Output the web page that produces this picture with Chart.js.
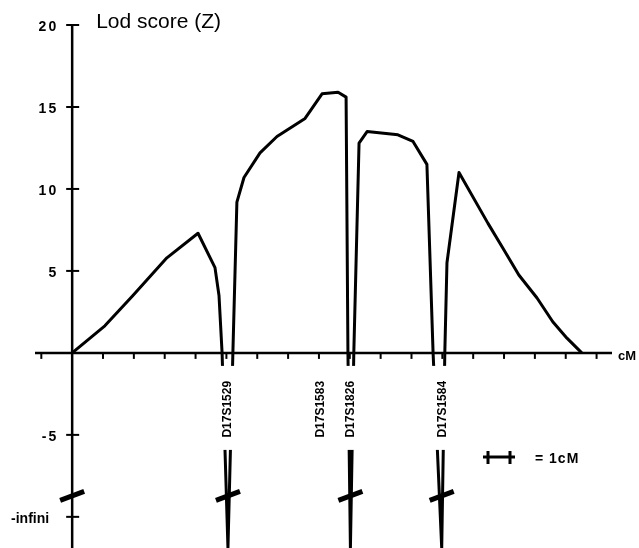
<!DOCTYPE html>
<html>
<head>
<meta charset="utf-8">
<script src="https://cdn.jsdelivr.net/npm/chart.js@4"></script>
<style>
  body { margin: 0; background: #fff; }
  canvas { display: block; }
</style>
</head>
<body>
<canvas id="lodChart" width="639" height="548"></canvas>
<script>
// map position (cM) and lod score Z; -Infinity = "-infini" (drops at the markers)
const positionsCM = [0.00, 1.06, 1.97, 3.07, 4.08, 4.63, 4.76, 4.86, 5.05, 5.21,
  5.34, 5.57, 6.09, 6.64, 7.55, 8.10, 8.62, 8.88, 8.94, 9.02,
  9.13, 9.30, 9.56, 10.56, 11.05, 11.50, 11.70, 11.98, 12.08, 12.15,
  12.54, 13.48, 13.96, 14.48, 15.07, 15.58, 16.04, 16.52];
const lodScores = [0, 1.65, 3.5, 5.8, 7.3, 5.2, 3.5, 0, -Infinity, 0,
  9.2, 10.7, 12.2, 13.2, 14.3, 15.8, 15.9, 15.6, 0, -Infinity,
  0, 12.8, 13.5, 13.3, 12.9, 11.5, 0, -Infinity, 0, 5.5,
  11.0, 7.9, 6.4, 4.75, 3.35, 1.9, 0.9, 0];

const markerNames = ['D17S1529', 'D17S1583', 'D17S1826', 'D17S1584'];
const markerCM = [5.05, 8.07, 9.02, 12.0];

const xTicks = [-1, 0, 1, 2, 3, 4, 5, 6, 7, 8, 9, 10, 11, 12, 13, 14, 15, 16, 17];
const yTicks = [20, 15, 10, 5, -5, -10];
const yTickLabels = ['20', '15', '10', '5', '-5', '-infini'];
const breakValue = -8.72;

const X_MIN = -1.14, X_MAX = 17.5;
const Y_MIN = -11.9, Y_MAX = 20;
const INK = '#000';

const line = (ctx, x1, y1, x2, y2) => {
  ctx.beginPath();
  ctx.moveTo(x1, y1);
  ctx.lineTo(x2, y2);
  ctx.stroke();
};

const lodAxes = {
  id: 'lodAxes',
  beforeDatasetsDraw(chart) {
    const { ctx, chartArea, scales: { x, y } } = chart;
    const x0 = x.getPixelForValue(0);
    const y0 = y.getPixelForValue(0);
    ctx.save();
    ctx.strokeStyle = INK;
    ctx.fillStyle = INK;
    ctx.lineWidth = 2.5;
    line(ctx, chartArea.left - 2, y0, chartArea.right, y0);
    line(ctx, x0, y.getPixelForValue(yTicks[0]), x0, chartArea.bottom);

    ctx.lineWidth = 2;
    xTicks.forEach(v => {
      if (v === 0) return;
      const px = x.getPixelForValue(v);
      line(ctx, px, y0, px, y0 + 6);
    });

    ctx.font = 'bold 14px "Liberation Sans", Arial, sans-serif';
    ctx.textAlign = 'right';
    ctx.textBaseline = 'alphabetic';
    yTicks.forEach((v, i) => {
      const py = y.getPixelForValue(v);
      line(ctx, x0 - 6, py, x0 + 7, py);
      const lbl = yTickLabels[i];
      const isWord = lbl.length > 3;
      ctx.letterSpacing = isWord ? '0px' : '2px';
      ctx.fillText(lbl, x0 - (isWord ? 23 : 14), py + 6);
    });
    ctx.letterSpacing = '0px';

    // axis titles
    ctx.textAlign = 'left';
    ctx.font = '21px "Liberation Sans", Arial, sans-serif';
    ctx.fillText('Lod score (Z)', x0 + 24, y.getPixelForValue(yTicks[0]) + 3);
    ctx.font = 'bold 13px "Liberation Sans", Arial, sans-serif';
    ctx.fillText('cM', chartArea.right + 6, y0 + 7);
    ctx.restore();
  },
  afterDatasetsDraw(chart) {
    const { ctx, scales: { x, y } } = chart;
    const x0 = x.getPixelForValue(0);
    const y0 = y.getPixelForValue(0);
    const by = y.getPixelForValue(breakValue);
    ctx.save();
    ctx.strokeStyle = INK;
    ctx.fillStyle = INK;

    // axis breaks on the y axis and on each drop to -infini
    const breakX = [x0].concat(
      positionsCM.filter((_, i) => lodScores[i] === -Infinity).map(v => x.getPixelForValue(v))
    );
    ctx.lineWidth = 5;
    ctx.lineCap = 'butt';
    breakX.forEach(bx => line(ctx, bx - 12, by + 4.5, bx + 12, by - 4.5));

    // marker names, vertical, in a gap cut out of the drop lines
    ctx.font = 'bold 12px "Liberation Sans", Arial, sans-serif';
    ctx.textAlign = 'right';
    ctx.textBaseline = 'middle';
    markerNames.forEach((name, i) => {
      const mx = x.getPixelForValue(markerCM[i]);
      ctx.fillStyle = '#fff';
      ctx.fillRect(mx - 13, y0 + 13, 24, 84);
      ctx.fillStyle = INK;
      ctx.save();
      ctx.translate(mx, y0 + 28);
      ctx.rotate(-Math.PI / 2);
      ctx.fillText(name, 0, 0);
      ctx.restore();
    });

    // scale bar legend
    const lx = 483, ly = 457;
    ctx.lineWidth = 3;
    line(ctx, lx, ly, lx + 32, ly);
    line(ctx, lx + 5, ly - 6, lx + 5, ly + 7);
    line(ctx, lx + 27, ly - 6, lx + 27, ly + 7);
    ctx.font = 'bold 14px "Liberation Sans", Arial, sans-serif';
    ctx.textAlign = 'left';
    ctx.textBaseline = 'alphabetic';
    ctx.letterSpacing = '1px';
    ctx.fillText('= 1cM', lx + 52, ly + 6);
    ctx.restore();
  }
};

new Chart(document.getElementById('lodChart'), {
  type: 'line',
  data: {
    datasets: [{
      label: 'Lod score (Z)',
      data: positionsCM.map((cm, i) => ({ x: cm, y: lodScores[i] === -Infinity ? Y_MIN : lodScores[i] })),
      borderColor: INK,
      borderWidth: 3,
      borderJoinStyle: 'round',
      pointRadius: 0,
      tension: 0,
      fill: false
    }]
  },
  options: {
    responsive: false,
    animation: false,
    devicePixelRatio: 1,
    layout: { padding: { left: 37, right: 27, top: 25, bottom: 0 } },
    plugins: { legend: { display: false }, tooltip: { enabled: false } },
    scales: {
      x: { type: 'linear', min: X_MIN, max: X_MAX, display: false },
      y: { type: 'linear', min: Y_MIN, max: Y_MAX, display: false }
    }
  },
  plugins: [lodAxes]
});
</script>
</body>
</html>
